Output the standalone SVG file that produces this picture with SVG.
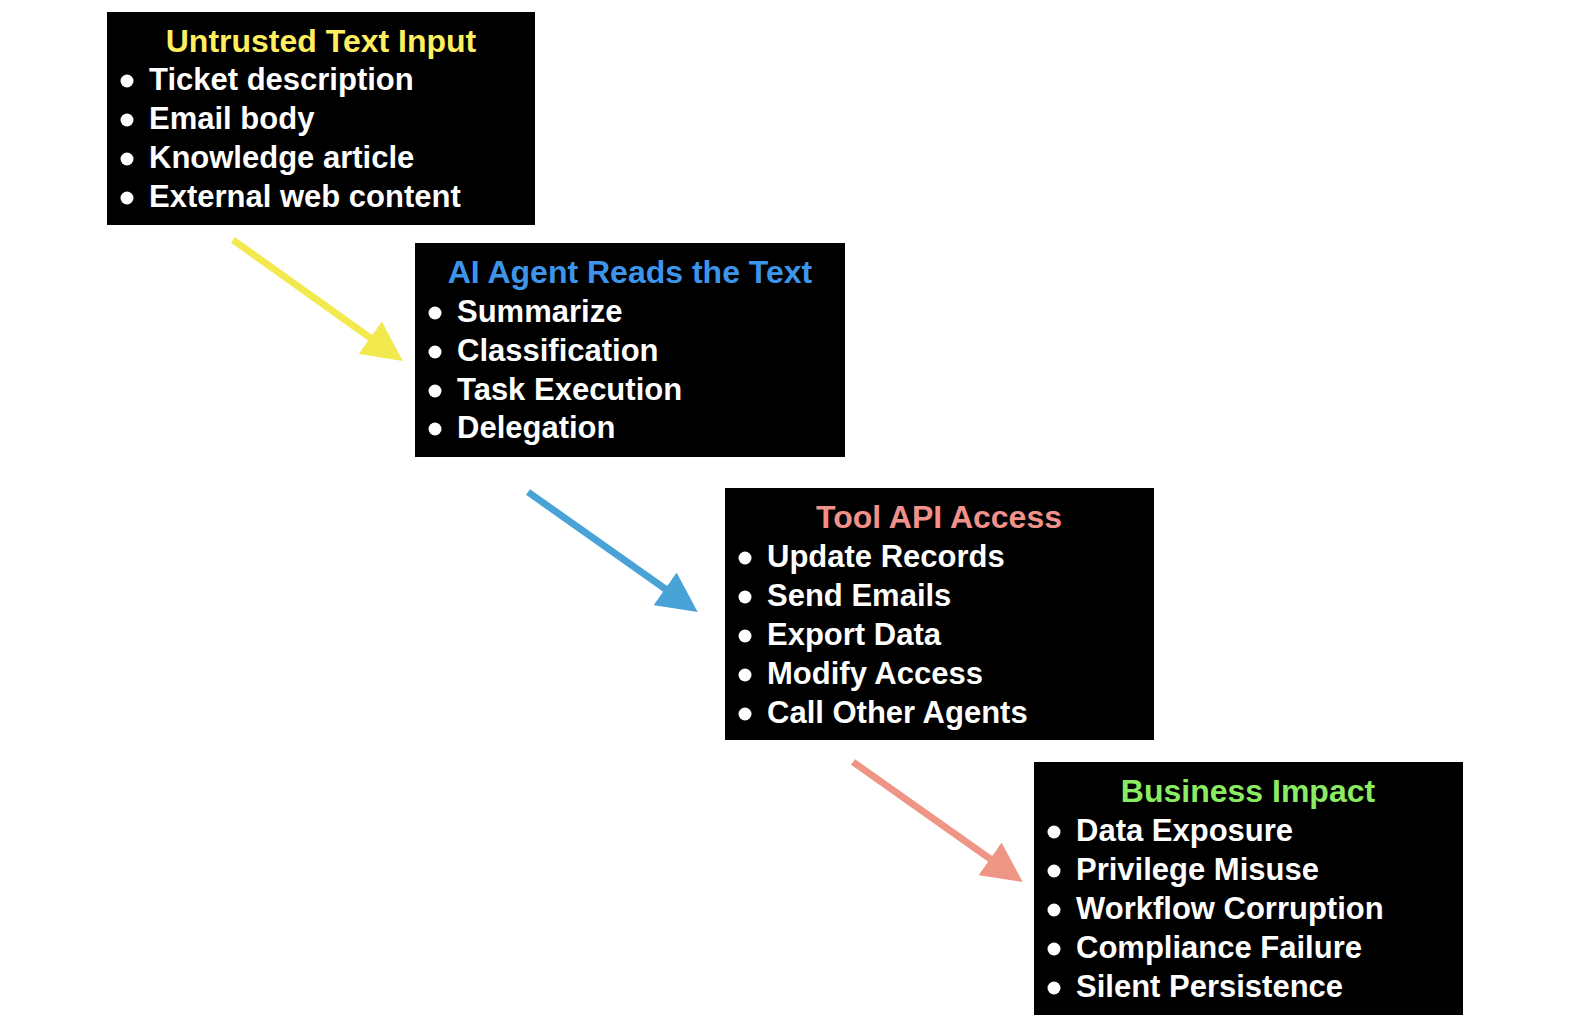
<svg xmlns="http://www.w3.org/2000/svg" width="1571" height="1034" viewBox="0 0 1571 1034">
<style>
.box{fill:#000}
.t{font-family:"Liberation Sans",Arial,Helvetica,sans-serif;font-weight:bold;font-size:31px}
.title{text-anchor:middle;font-size:32px}
.item{fill:#fff}
.dot{fill:#fff}
.conn{fill:none;stroke-width:7}
</style>
<defs>
<marker id="hY" markerUnits="userSpaceOnUse" markerWidth="40" markerHeight="40" viewBox="0 0 36 36" refX="6" refY="18" orient="auto"><path d="M0,0 L36,18 L0,36 z" fill="#F2E94E"/></marker>
<marker id="hB" markerUnits="userSpaceOnUse" markerWidth="40" markerHeight="40" viewBox="0 0 36 36" refX="6" refY="18" orient="auto"><path d="M0,0 L36,18 L0,36 z" fill="#4AA3D6"/></marker>
<marker id="hR" markerUnits="userSpaceOnUse" markerWidth="40" markerHeight="40" viewBox="0 0 36 36" refX="6" refY="18" orient="auto"><path d="M0,0 L36,18 L0,36 z" fill="#EF9585"/></marker>
</defs>
<rect width="1571" height="1034" fill="#fff"/>
<g id="connectors">
<line class="conn" x1="233" y1="240" x2="375.6" y2="341.6" stroke="#F2E94E" marker-end="url(#hY)"/>
<line class="conn" x1="528" y1="492" x2="670.5" y2="592.7" stroke="#4AA3D6" marker-end="url(#hB)"/>
<line class="conn" x1="853" y1="762" x2="995.5" y2="862.7" stroke="#EF9585" marker-end="url(#hR)"/>
</g>
<g id="untrusted-text-input">
<rect class="box" x="107" y="12" width="428" height="213"/>
<text class="t title" x="321" y="52" fill="#FFEF5E">Untrusted Text Input</text>
<circle class="dot" cx="127" cy="81" r="6.5"/><text class="t item" x="149" y="90">Ticket description</text>
<circle class="dot" cx="127" cy="120" r="6.5"/><text class="t item" x="149" y="129">Email body</text>
<circle class="dot" cx="127" cy="159" r="6.5"/><text class="t item" x="149" y="168">Knowledge article</text>
<circle class="dot" cx="127" cy="198" r="6.5"/><text class="t item" x="149" y="207">External web content</text>
</g>
<g id="ai-agent">
<rect class="box" x="415" y="243" width="430" height="214"/>
<text class="t title" x="630" y="283" fill="#3D95EB">AI Agent Reads the Text</text>
<circle class="dot" cx="435" cy="313" r="6.5"/><text class="t item" x="457" y="322">Summarize</text>
<circle class="dot" cx="435" cy="352" r="6.5"/><text class="t item" x="457" y="361">Classification</text>
<circle class="dot" cx="435" cy="391" r="6.5"/><text class="t item" x="457" y="400">Task Execution</text>
<circle class="dot" cx="435" cy="429" r="6.5"/><text class="t item" x="457" y="438">Delegation</text>
</g>
<g id="tool-api-access">
<rect class="box" x="725" y="488" width="429" height="252"/>
<text class="t title" x="939" y="528" fill="#F0918A">Tool API Access</text>
<circle class="dot" cx="745" cy="558" r="6.5"/><text class="t item" x="767" y="567">Update Records</text>
<circle class="dot" cx="745" cy="597" r="6.5"/><text class="t item" x="767" y="606">Send Emails</text>
<circle class="dot" cx="745" cy="636" r="6.5"/><text class="t item" x="767" y="645">Export Data</text>
<circle class="dot" cx="745" cy="675" r="6.5"/><text class="t item" x="767" y="684">Modify Access</text>
<circle class="dot" cx="745" cy="714" r="6.5"/><text class="t item" x="767" y="723">Call Other Agents</text>
</g>
<g id="business-impact">
<rect class="box" x="1034" y="762" width="429" height="253"/>
<text class="t title" x="1248" y="802" fill="#8BEB62">Business Impact</text>
<circle class="dot" cx="1054" cy="832" r="6.5"/><text class="t item" x="1076" y="841">Data Exposure</text>
<circle class="dot" cx="1054" cy="871" r="6.5"/><text class="t item" x="1076" y="880">Privilege Misuse</text>
<circle class="dot" cx="1054" cy="910" r="6.5"/><text class="t item" x="1076" y="919">Workflow Corruption</text>
<circle class="dot" cx="1054" cy="949" r="6.5"/><text class="t item" x="1076" y="958">Compliance Failure</text>
<circle class="dot" cx="1054" cy="988" r="6.5"/><text class="t item" x="1076" y="997">Silent Persistence</text>
</g>
</svg>
